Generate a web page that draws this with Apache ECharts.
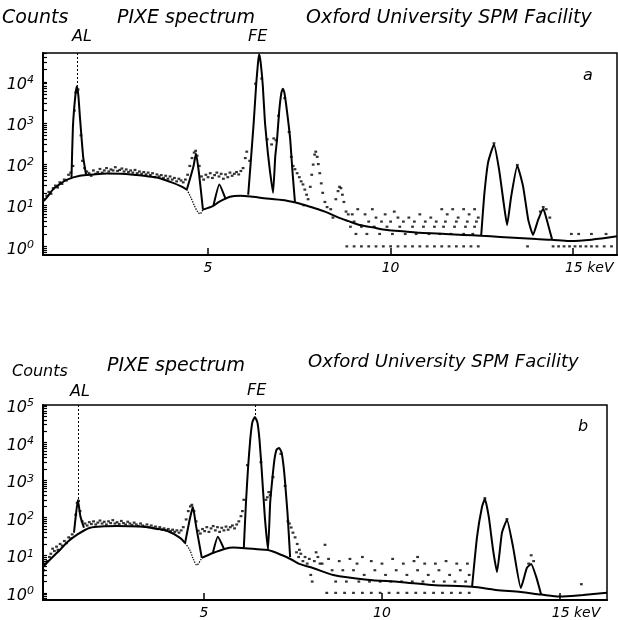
<!DOCTYPE html>
<html>
<head>
<meta charset="utf-8">
<script src="https://cdn.jsdelivr.net/npm/echarts@6/dist/echarts.min.js"></script>
<style>
  html, body { margin: 0; padding: 0; background: #fff; }
  #chart { width: 618px; height: 620px; }
</style>
</head>
<body>
<div id="chart"></div>
<script>
// energies in keV, counts per channel (plotted on log10 scale)

// ---- panel a ----
var bgLeftA = [[0.48,12.3],[0.6,16],[0.75,24],[0.95,33],[1.14,42],[1.49,52],[1.85,56],[2.23,59],[2.6,58],[2.95,55],[3.3,51],[3.6,47],[4.04,35],[4.25,29],[4.42,24]];
var bgDipA = [[4.42,24],[4.52,16],[4.62,10],[4.72,6.8],[4.78,6.2],[4.86,7.8]];
var bgRightA = [[4.86,7.8],[5.0,8.6],[5.14,9.6],[5.3,12],[5.6,16],[5.88,17],[6.23,16],[6.6,14.5],[7.16,12.9],[7.5,11],[7.88,8.7],[8.2,7],[8.53,5.2],[8.85,4.1],[9.16,3.3],[9.5,2.9],[9.9,2.5],[10.4,2.3],[10.8,2.14],[11.5,2.0],[12.0,1.9],[12.48,1.8],[13.0,1.7],[13.5,1.6],[14.0,1.5],[14.4,1.45],[14.9,1.35],[15.5,1.45],[16.2,1.75]];
var peaksA = [
  [[1.26,47],[1.30,830],[1.37,5000],[1.41,7800],[1.45,4500],[1.49,1440],[1.58,150],[1.66,55]],
  [[4.42,24],[4.6,87],[4.67,182],[4.75,62],[4.86,7.8]],
  [[5.15,10],[5.31,32],[5.47,15]],
  [[6.1,18],[6.18,150],[6.25,1000],[6.32,9000],[6.37,30000],[6.4,46800],[6.44,30000],[6.5,8000],[6.56,1000],[6.64,180],[6.7,63],[6.78,20],
   [6.84,150],[6.89,400],[6.95,2000],[7.01,5500],[7.05,6800],[7.09,5500],[7.16,2000],[7.25,400],[7.31,70],[7.38,12]],
  [[12.48,1.8],[12.56,16],[12.67,110],[12.83,300],[12.97,74],[13.11,9.2],[13.19,3.3],[13.3,16],[13.47,91],[13.63,28],[13.77,4.4],[13.9,1.9],[14.04,4.4],[14.18,8.2],[14.29,4],[14.42,1.5]]
];
var measA = [
  [0.52,14],[0.58,17],[0.64,21],[0.7,19],[0.76,26],[0.82,30],[0.88,27],[0.94,36],[1.0,33],[1.06,42],[1.12,40],[1.18,55],[1.24,62],[1.3,90],
  [1.34,2000],[1.38,5500],[1.44,6500],[1.52,500],[1.56,120],[1.62,80],[1.68,66],
  [1.74,60],[1.8,52],[1.86,70],[1.92,58],[1.98,64],[2.04,76],[2.1,62],[2.16,70],[2.22,80],[2.28,66],[2.34,74],[2.4,70],[2.46,84],[2.52,68],[2.58,72],[2.64,78],[2.7,66],[2.76,74],[2.82,64],[2.88,70],[2.94,62],[3.0,72],[3.06,60],[3.12,66],[3.18,58],[3.24,64],[3.3,56],[3.36,62],[3.42,54],[3.48,60],[3.54,48],[3.6,56],[3.66,50],[3.72,54],[3.78,46],[3.84,52],[3.9,44],[3.96,50],[4.02,42],[4.08,46],[4.14,38],[4.2,44],[4.26,40],[4.32,36],[4.38,42],[4.44,55],
  [4.5,90],[4.56,140],[4.62,190],[4.66,210],[4.7,160],[4.76,90],[4.82,50],
  [4.88,42],[4.94,55],[5.0,48],[5.06,60],[5.12,46],[5.18,54],[5.24,62],[5.3,50],[5.36,58],[5.42,44],[5.48,56],[5.54,48],[5.6,62],[5.66,52],[5.72,58],[5.78,64],[5.84,56],[5.9,68],[5.96,80],[6.02,140],[6.06,200],
  [6.14,120],[6.3,9000],[6.47,12000],[6.62,400],[6.74,300],[6.8,420],[6.86,380],[6.93,1500],[7.1,4000],[7.22,600],[7.28,150],
  [7.33,90],[7.38,75],[7.44,60],[7.5,48],[7.55,38],[7.6,32],[7.65,24],[7.7,18],[7.74,14],[7.62,10],
  [7.8,28],[7.84,55],[7.88,97],[7.92,170],[7.95,200],[7.99,150],[8.02,100],[8.06,60],[8.1,34],[8.14,20],[8.2,12],[8.26,9],
  [8.36,8],[8.42,5],[8.5,14],[8.56,22],[8.6,28],[8.64,26],[8.68,18],[8.72,12],[8.78,7],[8.84,6],
  [9.1,8],[9.5,8],[10.1,7],[11.4,8],[11.7,8],[12.0,8],[12.3,8],
  [8.95,6],[9.3,6],[9.6,5],[9.85,6],[10.2,5],[10.5,5],[10.8,6],[11.1,5],[11.55,6],[11.85,5],[12.15,6],[12.4,5],
  [9.0,4],[9.4,4],[9.75,4],[10.0,4],[10.35,4],[10.65,4],[10.95,4],[11.25,4],[11.5,4],[11.8,4],[12.1,4],[12.35,4],
  [8.9,3],[9.2,3],[9.55,3],[9.9,3],[10.25,3],[10.6,3],[10.9,3],[11.2,3],[11.45,3],[11.75,3],[12.05,3],[12.3,3],
  [9.05,2],[9.35,2],[9.7,2],[10.05,2],[10.4,2],[10.7,2],[11.05,2],[11.35,2],[11.65,2],[12.0,2],[12.25,2],
  [8.8,1],[9.0,1],[9.2,1],[9.4,1],[9.6,1],[9.8,1],[10.0,1],[10.2,1],[10.4,1],[10.6,1],[10.8,1],[11.0,1],[11.2,1],[11.4,1],[11.6,1],[11.8,1],[12.0,1],[12.2,1],[12.4,1],
  [12.83,320],[13.47,95],[14.1,7],[14.18,9],[14.26,8],[14.36,5],
  [13.75,1],[14.45,1],[14.6,1],[14.75,1],[14.9,1],[15.05,1],[15.2,1],[15.35,1],[15.5,1],[15.65,1],[15.85,1],[16.05,1],
  [14.95,2],[15.15,2],[15.5,2],[15.9,2]
];
var alA = [1.41, 7800];

// ---- panel b ----
var bgLeftB = [[0.48,4.8],[0.53,5.5],[0.75,9],[0.96,14],[1.15,22],[1.43,35],[1.8,54],[2.2,59],[2.55,60],[3.2,58],[3.6,52],[3.96,45],[4.33,29],[4.47,21]];
var bgDipB = [[4.47,21],[4.6,14],[4.7,8],[4.8,5.5],[4.94,8.5]];
var bgRightB = [[4.94,8.5],[5.25,11.5],[5.6,15],[5.83,16],[6.15,15.5],[6.5,14.5],[6.8,13.8],[7.2,10],[7.47,7.6],[7.7,5.8],[8.06,4.6],[8.63,3.0],[9.58,2.24],[10.5,1.95],[11.4,1.62],[12.53,1.45],[13.2,1.2],[13.9,1.05],[14.47,0.9],[15.0,0.8],[15.65,0.88],[16.32,1.0]];
var peaksB = [
  [[1.35,40],[1.4,110],[1.46,295],[1.53,110],[1.63,54]],
  [[4.47,21],[4.6,90],[4.69,195],[4.78,60],[4.94,8.5]],
  [[5.25,11.5],[5.39,31],[5.56,15]],
  [[6.12,16],[6.18,250],[6.24,2200],[6.3,12000],[6.36,35000],[6.43,48000],[6.5,35000],[6.56,12000],[6.62,2000],[6.71,105],[6.8,14],
   [6.86,250],[6.91,850],[6.98,3500],[7.04,6500],[7.11,7200],[7.18,5500],[7.24,2200],[7.28,850],[7.35,120],[7.42,9]],
  [[12.53,1.45],[12.67,31],[12.81,195],[12.89,316],[13.0,105],[13.12,14],[13.23,3.6],[13.37,40],[13.51,87],[13.68,17],[13.9,1.35],[14.07,4.6],[14.19,5.9],[14.33,2.7],[14.47,0.9]]
];
var measB = [
  [0.5,4],[0.55,6],[0.6,7],[0.66,9],[0.7,11],[0.75,15],[0.8,13],[0.86,17],[0.9,14],[0.96,20],[1.02,18],[1.08,24],[1.14,21],[1.2,30],[1.26,28],[1.3,36],
  [1.4,120],[1.44,250],[1.48,280],[1.52,150],[1.58,80],
  [1.66,70],[1.72,62],[1.78,76],[1.84,68],[1.9,80],[1.96,66],[2.02,74],[2.08,84],[2.14,70],[2.2,78],[2.26,66],[2.32,80],[2.38,72],[2.44,86],[2.5,70],[2.56,76],[2.62,68],[2.68,82],[2.74,72],[2.8,66],[2.86,78],[2.92,70],[2.98,64],[3.04,74],[3.1,66],[3.16,60],[3.22,70],[3.28,62],[3.34,58],[3.4,66],[3.46,56],[3.52,62],[3.58,54],[3.64,58],[3.7,50],[3.76,56],[3.82,48],[3.88,52],[3.94,46],[4.0,50],[4.06,44],[4.12,48],[4.18,42],[4.24,46],[4.3,40],[4.36,46],[4.42,56],
  [4.5,90],[4.56,150],[4.62,200],[4.66,220],[4.72,150],[4.78,80],[4.84,45],
  [4.9,38],[4.96,50],[5.02,44],[5.08,56],[5.14,42],[5.2,52],[5.26,60],[5.32,46],[5.38,56],[5.44,42],[5.5,54],[5.56,46],[5.62,58],[5.68,48],[5.74,56],[5.8,62],[5.86,52],[5.92,66],[5.98,80],[6.04,110],[6.08,150],
  [6.12,300],[6.22,2500],[6.6,3000],[6.74,300],[6.78,350],[6.82,480],[6.86,400],[6.94,1200],[7.16,5000],[7.28,700],
  [7.36,80],[7.4,70],[7.45,55],[7.5,40],[7.56,30],[7.62,20],[7.68,14],
  [7.6,12],[7.66,9],[7.72,11],[7.78,7],[7.84,9],[7.9,6],[7.96,8],[8.0,3],[8.04,2],[8.1,7],[8.15,12],[8.2,9],[8.26,6],[8.4,19],[8.32,6],
  [8.5,8],[8.8,7],[9.1,8],[9.3,6],[9.7,7],[10.0,6],[10.3,8],[10.6,6],[10.9,7],[11.2,6],[11.5,6],[11.8,7],[12.1,6],[12.4,6],[11.0,9],[9.45,9],
  [8.6,4],[8.9,4],[9.2,4],[9.5,3],[9.8,4],[10.1,3],[10.4,4],[10.7,3],[11.0,4],[11.3,3],[11.6,4],[11.9,3],[12.2,4],[12.45,3],
  [8.7,2],[9.0,2],[9.35,2],[9.65,2],[9.95,2],[10.25,2],[10.55,2],[10.85,2],[11.15,2],[11.45,2],[11.75,2],[12.05,2],[12.35,2],
  [8.45,1],[8.7,1],[8.95,1],[9.2,1],[9.45,1],[9.7,1],[9.95,1],[10.2,1],[10.45,1],[10.7,1],[10.95,1],[11.2,1],[11.45,1],[11.7,1],[11.95,1],[12.2,1],[12.45,1],
  [12.89,330],[13.51,92],[14.12,6],[14.19,10],[14.26,7],
  [15.6,1.7]
];
var alB = [1.46, 295];
var feB = [6.43, 48000];

// tick labels
var xTicks = [5, 10, 15];
var decadesA = [0, 1, 2, 3, 4];
var decadesB = [0, 1, 2, 3, 4, 5];

var FONT = 'DejaVu Sans';
var lg = function (arr) { return arr.map(function (p) { return [p[0], Math.log10(p[1])]; }); };

var yMinA = -0.21, yMaxA = 4.70;
var yMinB = -0.19, yMaxB = 5.0;

// decades plus the 2..9 subdivisions of a log axis
function logTicks(lo, hi) {
  var out = [];
  for (var d = -1; d <= 5; d++) {
    for (var k = 1; k <= 9; k++) {
      var v = d + Math.log10(k);
      if (v >= lo && v <= hi) out.push(v);
    }
  }
  return out;
}

function xAxisFor(grid, max) {
  return {
    type: 'value', gridIndex: grid, min: 0.48, max: max,
    axisLine: { onZero: false, lineStyle: { color: '#000', width: 2 } },
    axisTick: { inside: true, length: 7, customValues: xTicks, lineStyle: { color: '#000', width: 1.5 } },
    axisLabel: {
      customValues: xTicks, margin: 6, color: '#000',
      fontFamily: FONT, fontStyle: 'italic', fontSize: 14,
      formatter: function (v) { return v === 15 ? '{p|}15 keV' : String(v); },
      rich: { p: { width: 32 } }
    },
    splitLine: { show: false }
  };
}
function yAxisFor(grid, lo, hi, decades) {
  return {
    type: 'value', gridIndex: grid, min: lo, max: hi, position: 'left',
    axisLine: { onZero: false, lineStyle: { color: '#000', width: 2 } },
    axisTick: { inside: true, length: 4, customValues: logTicks(lo, hi), lineStyle: { color: '#000', width: 1.2 } },
    axisLabel: {
      customValues: decades, margin: 9, color: '#000', padding: [6, 0, 0, 0],
      formatter: function (v) { return '{b|10}{s|' + v + '}'; },
      rich: {
        b: { fontFamily: FONT, fontStyle: 'italic', fontSize: 16, lineHeight: 20, color: '#000' },
        s: { fontFamily: FONT, fontStyle: 'italic', fontSize: 11, lineHeight: 20, verticalAlign: 'top', color: '#000' }
      }
    },
    splitLine: { show: false }
  };
}

function lineSeries(data, xi, yi, dotted, smooth) {
  return {
    type: 'line', xAxisIndex: xi, yAxisIndex: yi, data: lg(data),
    showSymbol: false, symbol: 'none', smooth: smooth, silent: true,
    lineStyle: { color: '#000', width: dotted ? 1.3 : 2, type: dotted ? 'dotted' : 'solid' },
    z: 3
  };
}
function dashedLines(pairs) {
  return {
    symbol: 'none', silent: true, label: { show: false },
    lineStyle: { color: '#000', width: 1, type: [2, 2] },
    data: pairs
  };
}

var series = [];
[bgLeftA, bgRightA].forEach(function (d) { series.push(lineSeries(d, 0, 0, false, 0.3)); });
series.push(lineSeries(bgDipA, 0, 0, true, 0.3));
peaksA.forEach(function (d) { series.push(lineSeries(d, 0, 0, false, 0.15)); });
series[series.length - 1].markLine = dashedLines([
  [{ coord: [alA[0], yMaxA] }, { coord: [alA[0], Math.log10(alA[1])] }]
]);
series.push({
  type: 'scatter', xAxisIndex: 0, yAxisIndex: 0, data: lg(measA),
  symbol: 'rect', symbolSize: [2.8, 2.2], itemStyle: { color: '#000' }, silent: true, z: 2
});

[bgLeftB, bgRightB].forEach(function (d) { series.push(lineSeries(d, 1, 1, false, 0.3)); });
series.push(lineSeries(bgDipB, 1, 1, true, 0.3));
peaksB.forEach(function (d) { series.push(lineSeries(d, 1, 1, false, 0.15)); });
series[series.length - 1].markLine = dashedLines([
  [{ coord: [alB[0], yMaxB] }, { coord: [alB[0], Math.log10(alB[1])] }],
  [{ coord: [feB[0], yMaxB] }, { coord: [feB[0], Math.log10(feB[1])] }]
]);
series.push({
  type: 'scatter', xAxisIndex: 1, yAxisIndex: 1, data: lg(measB),
  symbol: 'rect', symbolSize: [2.8, 2.2], itemStyle: { color: '#000' }, silent: true, z: 2
});

function txt(t, x, y, size) {
  return { type: 'text', x: x, y: y, silent: true,
    style: { text: t, fill: '#000', font: 'italic ' + (size || 16) + 'px "' + FONT + '"' } };
}

var chart = echarts.init(document.getElementById('chart'), null, { renderer: 'canvas' });
chart.setOption({
  animation: false,
  backgroundColor: '#fff',
  grid: [
    { left: 43, right: 1, top: 53, height: 202, show: true, borderColor: '#000', borderWidth: 1.5 },
    { left: 43, right: 11, top: 405, height: 195, show: true, borderColor: '#000', borderWidth: 1.5 }
  ],
  xAxis: [xAxisFor(0, 16.2), xAxisFor(1, 16.32)],
  yAxis: [yAxisFor(0, yMinA, yMaxA, decadesA), yAxisFor(1, yMinB, yMaxB, decadesB)],
  graphic: [
    txt('Counts', 2, 9, 19), txt('PIXE spectrum', 117, 9, 19), txt('Oxford University SPM Facility', 306, 9, 19),
    txt('AL', 72, 29, 16), txt('FE', 248, 29, 16), txt('a', 583, 68, 16),
    txt('Counts', 12, 364, 16), txt('PIXE spectrum', 107, 357, 19), txt('Oxford University SPM Facility', 308, 353, 18),
    txt('AL', 70, 384, 16), txt('FE', 247, 383, 16), txt('b', 578, 419, 16)
  ],
  series: series
});
</script>
</body>
</html>
